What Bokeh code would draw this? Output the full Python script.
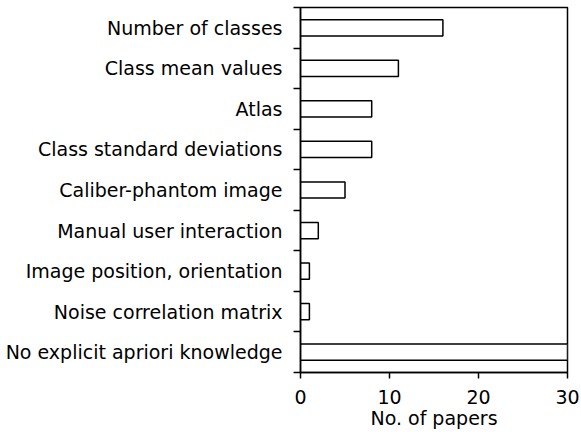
from bokeh.plotting import figure
from bokeh.models import Range1d, FixedTicker, ColumnDataSource
from bokeh.embed import file_html
from bokeh.resources import INLINE

categories = [
    "Number of classes",
    "Class mean values",
    "Atlas",
    "Class standard deviations",
    "Caliber-phantom image",
    "Manual user interaction",
    "Image position, orientation",
    "Noise correlation matrix",
    "No explicit apriori knowledge",
]
papers = [16, 11, 8, 8, 5, 2, 1, 1, 30]
x_ticks = [0, 10, 20, 30]

n = len(categories)
centers = [n - i - 0.5 for i in range(n)]
src = ColumnDataSource(dict(y=centers, right=papers, cat=categories))

FONT = "DejaVu Sans"
FS = "19px"

p = figure(width=581, height=434, output_backend="svg", toolbar_location=None,
           x_range=Range1d(0, 30), y_range=Range1d(0, n),
           min_border_left=300, min_border_right=14, min_border_top=7,
           min_border_bottom=62)
p.hbar(y="y", left=0, right="right", height=0.4, source=src,
       fill_color="white", line_color="black", line_width=1.5)

p.grid.visible = False
p.outline_line_color = "black"
p.outline_line_width = 1.5
p.background_fill_color = "white"
p.border_fill_color = "white"

# y axis: labels at centres, ticks at boundaries
ya = p.yaxis[0]
ya.ticker = FixedTicker(ticks=centers, minor_ticks=list(range(0, n + 1)))
ya.major_label_overrides = {c: lab for c, lab in zip(centers, categories)}
ya.major_tick_out = 0
ya.major_tick_in = 0
ya.minor_tick_out = 7
ya.minor_tick_in = 0
ya.minor_tick_line_color = "black"
ya.minor_tick_line_width = 1.5
ya.axis_line_color = "black"
ya.axis_line_width = 1.5
ya.major_label_standoff = 11
ya.major_label_text_font = FONT
ya.major_label_text_font_size = FS
ya.major_label_text_color = "black"

xa = p.xaxis[0]
xa.ticker = FixedTicker(ticks=x_ticks)
xa.major_tick_out = 6
xa.major_tick_in = 0
xa.minor_tick_out = 0
xa.minor_tick_in = 0
xa.major_tick_line_width = 1.5
xa.axis_line_width = 1.5
xa.major_label_standoff = 11
xa.major_label_text_font = FONT
xa.major_label_text_font_size = FS
xa.major_label_text_color = "black"
xa.axis_label = "No. of papers"
xa.axis_label_text_font = FONT
xa.axis_label_text_font_size = FS
xa.axis_label_text_font_style = "normal"
xa.axis_label_text_color = "black"
xa.axis_label_standoff = 0

open("out.html", "w").write(file_html(p, INLINE))
